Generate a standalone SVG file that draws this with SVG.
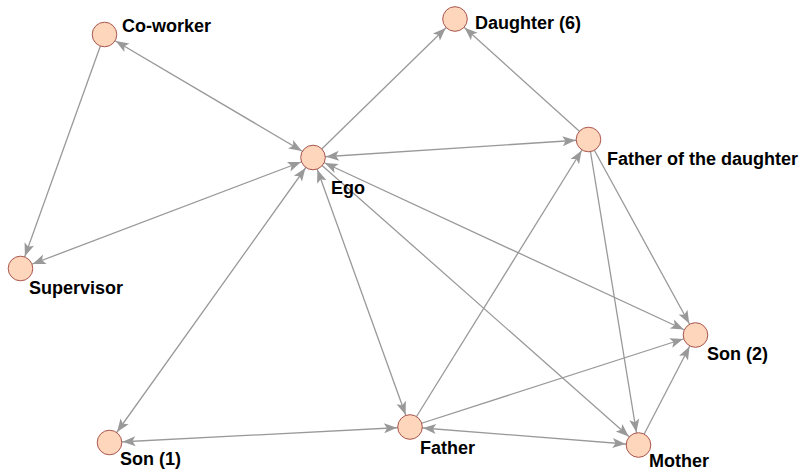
<svg xmlns="http://www.w3.org/2000/svg" width="803" height="474" viewBox="0 0 803 474">
<style>
.e{stroke:#999;stroke-width:1.3;fill:none}
.b{marker-start:url(#ah);marker-end:url(#ah)}
.d{marker-end:url(#ah)}
.n circle{fill:#fdd6bc;stroke:#a9554d;stroke-width:1}
.n text{font-family:"Liberation Sans",Arial,sans-serif;font-weight:bold;font-size:18px;fill:#000}
</style>
<defs>
<marker id="ah" markerUnits="userSpaceOnUse" markerWidth="30" markerHeight="20" viewBox="-30 -10 30 20" refX="0" refY="0" orient="auto-start-reverse">
<path d="M-13,0 L-26,-5 L-23,0 L-26,5 z" fill="#999"/>
</marker>
</defs>
<rect width="803" height="474" fill="#fff"/>
<g id="connectors">
<line class="e b" x1="104.5" y1="34.5" x2="313" y2="157.5"/>
<line class="e d" x1="104.5" y1="34.5" x2="20.5" y2="268.5"/>
<line class="e b" x1="20.5" y1="268.5" x2="313" y2="157.5"/>
<line class="e d" x1="313" y1="157.5" x2="455" y2="19"/>
<line class="e d" x1="588.5" y1="139.5" x2="455" y2="19"/>
<line class="e b" x1="313" y1="157.5" x2="588.5" y2="139.5"/>
<line class="e b" x1="313" y1="157.5" x2="109.5" y2="442.5"/>
<line class="e b" x1="313" y1="157.5" x2="410" y2="427"/>
<line class="e b" x1="313" y1="157.5" x2="695.5" y2="335"/>
<line class="e d" x1="313" y1="157.5" x2="638.5" y2="445"/>
<line class="e d" x1="410" y1="427" x2="588.5" y2="139.5"/>
<line class="e d" x1="588.5" y1="139.5" x2="695.5" y2="335"/>
<line class="e d" x1="588.5" y1="139.5" x2="638.5" y2="445"/>
<line class="e b" x1="109.5" y1="442.5" x2="410" y2="427"/>
<line class="e d" x1="410" y1="427" x2="695.5" y2="335"/>
<line class="e b" x1="410" y1="427" x2="638.5" y2="445"/>
<line class="e d" x1="638.5" y1="445" x2="695.5" y2="335"/>
</g>
<g id="coworker" class="n"><circle cx="104.5" cy="34.5" r="12.3"/><text x="122" y="31.5">Co-worker</text></g>
<g id="daughter" class="n"><circle cx="455" cy="19" r="12.3"/><text x="475" y="29">Daughter (6)</text></g>
<g id="ego" class="n"><circle cx="313" cy="157.5" r="12.3"/><text x="331" y="193.5">Ego</text></g>
<g id="fatherofdaughter" class="n"><circle cx="588.5" cy="139.5" r="12.3"/><text x="607" y="164.5">Father of the daughter</text></g>
<g id="supervisor" class="n"><circle cx="20.5" cy="268.5" r="12.3"/><text x="29" y="294">Supervisor</text></g>
<g id="son2" class="n"><circle cx="695.5" cy="335" r="12.3"/><text x="707" y="360">Son (2)</text></g>
<g id="son1" class="n"><circle cx="109.5" cy="442.5" r="12.3"/><text x="120" y="465">Son (1)</text></g>
<g id="father" class="n"><circle cx="410" cy="427" r="12.3"/><text x="420" y="454">Father</text></g>
<g id="mother" class="n"><circle cx="638.5" cy="445" r="12.3"/><text x="649" y="466.5">Mother</text></g>
</svg>
